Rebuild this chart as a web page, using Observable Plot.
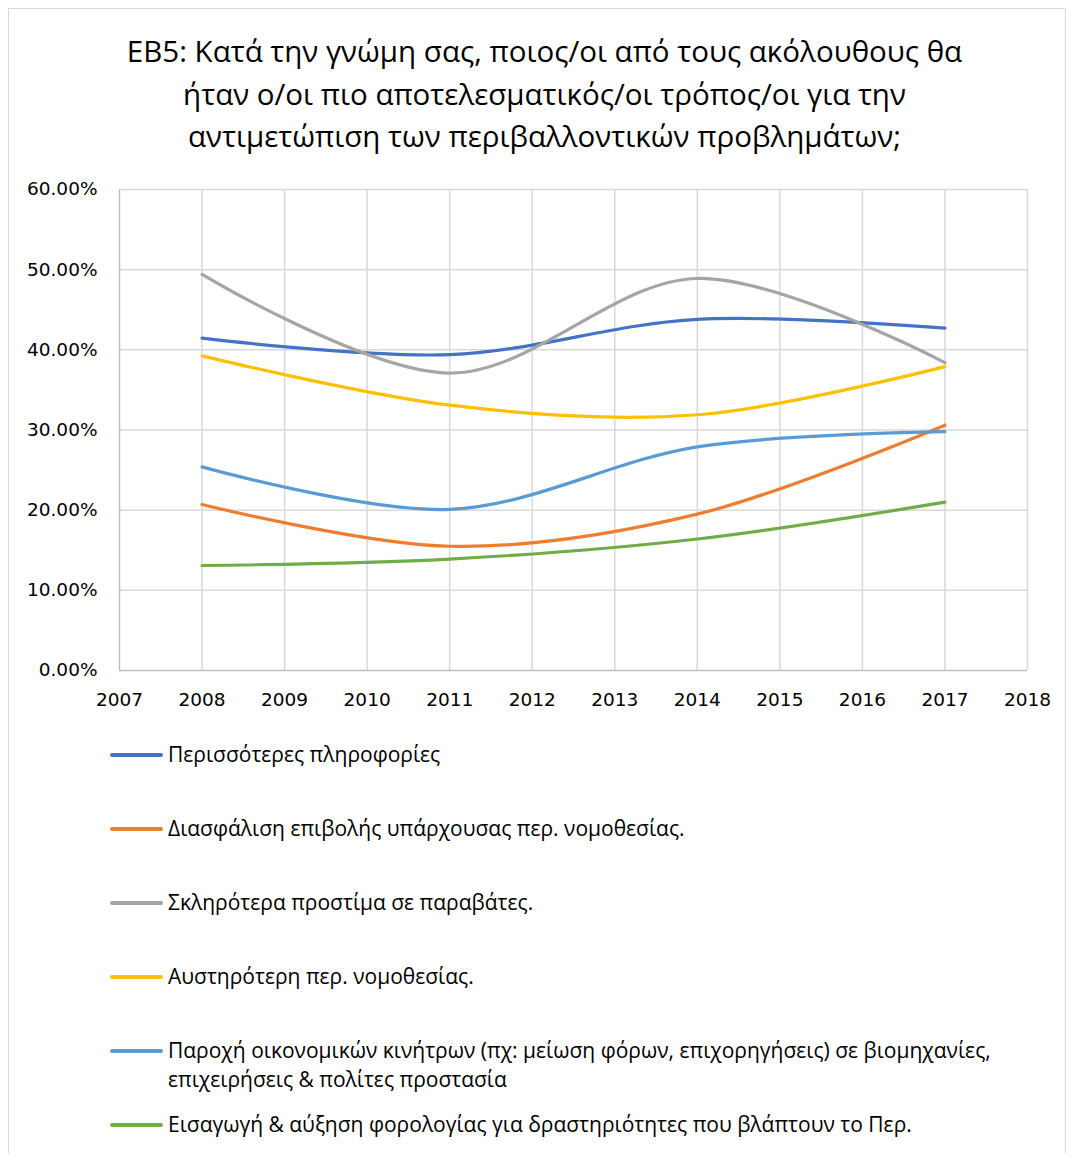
<!DOCTYPE html>
<html>
<head>
<meta charset="utf-8">
<script src="https://cdn.jsdelivr.net/npm/d3@7"></script>
<script src="https://cdn.jsdelivr.net/npm/@observablehq/plot@0.6"></script>
<style>
  html, body { margin: 0; padding: 0; background: #fff; }
  #wrap { position: relative; width: 1073px; height: 1153px; overflow: hidden; font-family: "Open Sans", "Noto Sans", sans-serif; color: #000; }
  #frame { position: absolute; left: 8px; top: 8px; width: 1058px; height: 1150px; border: 1.5px solid #d9d9d9; box-sizing: border-box; }
  #title { position: absolute; left: 0; top: 30px; width: 1089px; text-align: center; font-size: 29.5px; line-height: 42.5px; }
  #chart { position: absolute; left: 0; top: 150px; }
  .leg { position: absolute; left: 110px; font-size: 21px; line-height: 29px; display: flex; align-items: flex-start; }
  .sw { width: 53px; height: 3.5px; margin-top: 13px; margin-right: 5px; flex: none; border-radius: 2px; }
</style>
</head>
<body>
<div id="wrap">
  <div id="frame"></div>
  <div id="title">EB5: Κατά την γνώμη σας, ποιος/οι από τους ακόλουθους θα<br>ήταν ο/οι πιο αποτελεσματικός/οι τρόπος/οι για την<br>αντιμετώπιση των περιβαλλοντικών προβλημάτων;</div>
  <div id="chart"></div>
  <div id="legend"></div>
</div>
<script>
const years = [2008, 2011, 2014, 2017];
const seriesNames = [
  "Περισσότερες πληροφορίες",
  "Διασφάλιση επιβολής υπάρχουσας περ. νομοθεσίας.",
  "Σκληρότερα προστίμα σε παραβάτες.",
  "Αυστηρότερη περ. νομοθεσίας.",
  "Παροχή οικονομικών κινήτρων (πχ: μείωση φόρων, επιχορηγήσεις) σε βιομηχανίες, επιχειρήσεις & πολίτες προστασία",
  "Εισαγωγή & αύξηση φορολογίας για δραστηριότητες που βλάπτουν το Περ."
];
const legendLines = [
  ["Περισσότερες πληροφορίες"],
  ["Διασφάλιση επιβολής υπάρχουσας περ. νομοθεσίας."],
  ["Σκληρότερα προστίμα σε παραβάτες."],
  ["Αυστηρότερη περ. νομοθεσίας."],
  ["Παροχή οικονομικών κινήτρων (πχ: μείωση φόρων, επιχορηγήσεις) σε βιομηχανίες,", "επιχειρήσεις & πολίτες προστασία"],
  ["Εισαγωγή & αύξηση φορολογίας για δραστηριότητες που βλάπτουν το Περ."]
];
const moreInfo      = [0.4145, 0.394, 0.438, 0.427];
const enforcement   = [0.207, 0.155, 0.195, 0.306];
const harsherFines  = [0.494, 0.371, 0.489, 0.384];
const stricterLaw   = [0.3925, 0.331, 0.319, 0.379];
const incentives    = [0.254, 0.201, 0.279, 0.298];
const taxation      = [0.131, 0.139, 0.164, 0.210];
const seriesValues = [moreInfo, enforcement, harsherFines, stricterLaw, incentives, taxation];
const colors = ["#4472C4", "#ED7D31", "#A5A5A5", "#FFC000", "#5B9BD5", "#70AD47"];
const xTicks = [2007, 2008, 2009, 2010, 2011, 2012, 2013, 2014, 2015, 2016, 2017, 2018];
const yTicks = [0, 0.1, 0.2, 0.3, 0.4, 0.5, 0.6];

const rows = [];
seriesNames.forEach((name, i) => {
  years.forEach((yr, j) => rows.push({series: name, year: yr, value: seriesValues[i][j]}));
});

const plot = Plot.plot({
  width: 1073,
  height: 560,
  marginLeft: 119,
  marginRight: 46,
  marginTop: 39,
  marginBottom: 40,
  style: {fontFamily: "'DejaVu Sans', sans-serif", fontSize: "18.5px", color: "#000", background: "transparent"},
  x: {domain: [2007, 2018], ticks: xTicks, tickFormat: d => String(d), tickSize: 0, tickPadding: 22, label: null},
  y: {domain: [0, 0.6], ticks: yTicks, tickFormat: d3.format(".2%"), tickSize: 0, tickPadding: 22, label: null},
  color: {domain: seriesNames, range: colors},
  marks: [
    Plot.ruleX(xTicks.slice(1), {stroke: "#d9d9d9", strokeWidth: 1.5}),
    Plot.ruleY(yTicks.slice(1), {stroke: "#d9d9d9", strokeWidth: 1.5}),
    Plot.ruleX([2007], {stroke: "#bfbfbf", strokeWidth: 1.5}),
    Plot.ruleY([0], {stroke: "#bfbfbf", strokeWidth: 1.5}),
    Plot.axisX({ticks: xTicks, tickFormat: d => String(d), tickSize: 0, tickPadding: 22}),
    Plot.axisY({ticks: yTicks, tickFormat: d3.format(".2%"), tickSize: 0, tickPadding: 22}),
    Plot.line(rows, {x: "year", y: "value", z: "series", stroke: "series", strokeWidth: 3.2, curve: "catmull-rom"})
  ]
});
document.getElementById("chart").appendChild(plot);

const legendTops = [740, 814, 888, 962, 1036, 1110];
const legend = document.getElementById("legend");
legendLines.forEach((lines, i) => {
  const d = document.createElement("div");
  d.className = "leg";
  d.style.top = legendTops[i] + "px";
  const sw = document.createElement("div");
  sw.className = "sw";
  sw.style.background = colors[i];
  const t = document.createElement("div");
  t.innerHTML = lines.join("<br>");
  d.appendChild(sw);
  d.appendChild(t);
  legend.appendChild(d);
});
</script>
</body>
</html>
